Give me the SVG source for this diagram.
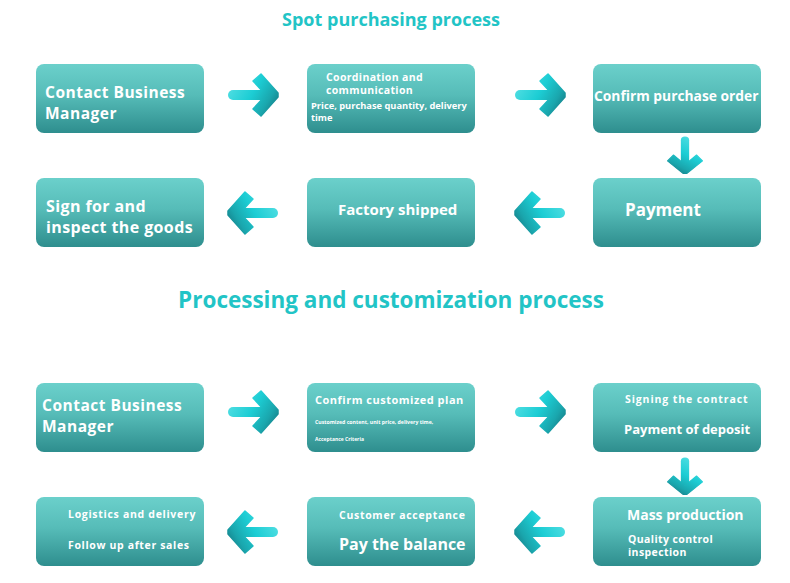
<svg xmlns="http://www.w3.org/2000/svg" width="790" height="583" viewBox="0 0 790 583">
<style>
.box{fill:url(#bg);}
.t{font-family:"Open Sans","Liberation Sans",sans-serif;font-weight:700;fill:#ffffff;}
.title{font-family:"Open Sans","Liberation Sans",sans-serif;font-weight:700;fill:#22c4c6;text-anchor:middle;}
.big{font-size:15.5px;letter-spacing:0.5px;}
</style>
<defs>
<linearGradient id="bg" x1="0" y1="0" x2="0" y2="1">
<stop offset="0" stop-color="#6bd0cb"/>
<stop offset="0.45" stop-color="#56bcb8"/>
<stop offset="1" stop-color="#2e8e8e"/>
</linearGradient>
<linearGradient id="ag" gradientUnits="userSpaceOnUse" x1="-25" y1="-12" x2="25" y2="18">
<stop offset="0" stop-color="#56e0e4"/>
<stop offset="0.45" stop-color="#1ccdd4"/>
<stop offset="0.75" stop-color="#1aa6ad"/>
<stop offset="1" stop-color="#13707a"/>
</linearGradient>
<g id="arr">
<rect x="-25" y="-5" width="38" height="10" rx="5" fill="url(#ag)"/>
<polygon points="0,-14 8,-21 25,-2 25,2 8,21 0,14 13,0" fill="url(#ag)" stroke="url(#ag)" stroke-width="1.5" stroke-linejoin="round"/>
</g>
</defs>
<text class="title" x="391" y="26" font-size="18">Spot purchasing process</text>
<text class="title" x="391" y="308" font-size="22.5">Processing and customization process</text>

<g id="connectors">
<use href="#arr" transform="translate(253,95)"/>
<use href="#arr" transform="translate(540,95)"/>
<use href="#arr" transform="translate(685,155) rotate(90) scale(0.74,0.83)"/>
<use href="#arr" transform="translate(540,213) scale(-1,1)"/>
<use href="#arr" transform="translate(253,213) scale(-1,1)"/>
<use href="#arr" transform="translate(253,412)"/>
<use href="#arr" transform="translate(540,412)"/>
<use href="#arr" transform="translate(685,476) rotate(90) scale(0.74,0.83)"/>
<use href="#arr" transform="translate(540,532) scale(-1,1)"/>
<use href="#arr" transform="translate(253,532) scale(-1,1)"/>
</g>

<g id="n1"><rect class="box" x="36" y="64" width="168" height="69" rx="8"/>
<text class="t big" x="45" y="97.5">Contact Business</text>
<text class="t big" x="45" y="118.5">Manager</text></g>

<g id="n2"><rect class="box" x="307" y="64" width="168" height="69" rx="8"/>
<text class="t" x="326" y="81" font-size="10.5" letter-spacing="0.35">Coordination and</text>
<text class="t" x="326" y="94" font-size="10.5" letter-spacing="0.35">communication</text>
<text class="t" x="311" y="109" font-size="9.3">Price, purchase quantity, delivery</text>
<text class="t" x="311" y="121" font-size="9.3">time</text></g>

<g id="n3"><rect class="box" x="593" y="64" width="168" height="69" rx="8"/>
<text class="t" x="594" y="101" font-size="13.8">Confirm purchase order</text></g>

<g id="n4"><rect class="box" x="593" y="178" width="168" height="69" rx="8"/>
<text class="t" x="625" y="216" font-size="17">Payment</text></g>

<g id="n5"><rect class="box" x="307" y="178" width="168" height="69" rx="8"/>
<text class="t" x="338" y="215" font-size="15">Factory shipped</text></g>

<g id="n6"><rect class="box" x="36" y="178" width="168" height="69" rx="8"/>
<text class="t" x="46" y="211.5" font-size="16" letter-spacing="0.4">Sign for and</text>
<text class="t" x="46" y="232.5" font-size="16" letter-spacing="0.4">inspect the goods</text></g>

<g id="n7"><rect class="box" x="36" y="383" width="168" height="69" rx="8"/>
<text class="t big" x="42" y="410.5">Contact Business</text>
<text class="t big" x="42" y="431.5">Manager</text></g>

<g id="n8"><rect class="box" x="307" y="383" width="168" height="69" rx="8"/>
<text class="t" x="315" y="404" font-size="11" letter-spacing="0.5">Confirm customized plan</text>
<text class="t" x="315" y="424" font-size="5.2">Customized content, unit price, delivery time,</text>
<text class="t" x="315" y="441" font-size="5">Acceptance Criteria</text></g>

<g id="n9"><rect class="box" x="593" y="383" width="168" height="69" rx="8"/>
<text class="t" x="625" y="403" font-size="10.5" letter-spacing="0.9">Signing the contract</text>
<text class="t" x="624" y="434" font-size="13">Payment of deposit</text></g>

<g id="n10"><rect class="box" x="593" y="497" width="168" height="69" rx="8"/>
<text class="t" x="627" y="520" font-size="14">Mass production</text>
<text class="t" x="628" y="543" font-size="10.5" letter-spacing="0.4">Quality control</text>
<text class="t" x="628" y="556" font-size="10.5" letter-spacing="0.4">inspection</text></g>

<g id="n11"><rect class="box" x="307" y="497" width="168" height="69" rx="8"/>
<text class="t" x="339" y="519" font-size="10.5" letter-spacing="0.7">Customer acceptance</text>
<text class="t" x="339" y="550" font-size="16">Pay the balance</text></g>

<g id="n12"><rect class="box" x="36" y="497" width="168" height="69" rx="8"/>
<text class="t" x="68" y="518" font-size="10.5" letter-spacing="0.7">Logistics and delivery</text>
<text class="t" x="68" y="549" font-size="10.5" letter-spacing="0.65">Follow up after sales</text></g>
</svg>
